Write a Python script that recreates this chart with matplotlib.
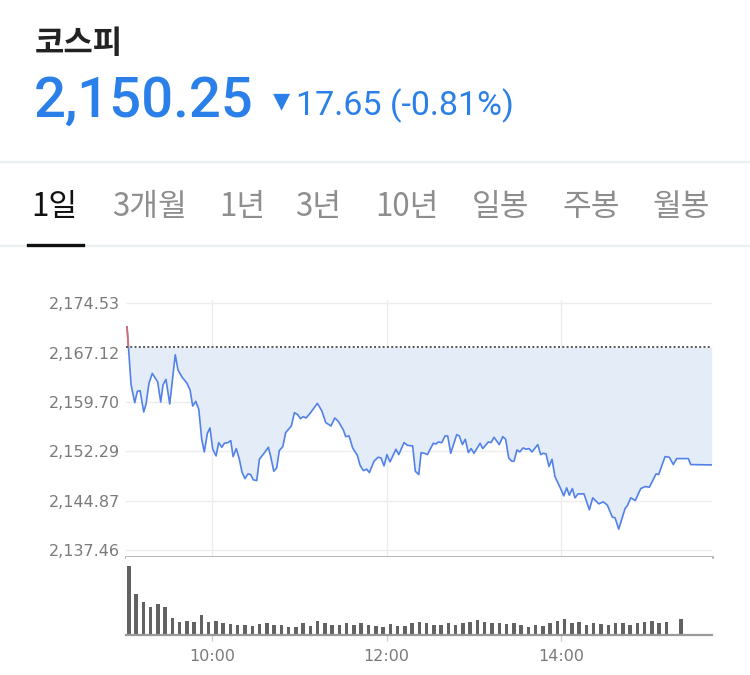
import matplotlib
matplotlib.use("Agg")
import matplotlib.pyplot as plt
from matplotlib.lines import Line2D
from matplotlib.patches import Rectangle

# ---- data (KOSPI intraday) ----
title = "코스피"
last_price = "2,150.25"
change_text = "17.65 (-0.81%)"
prev_close = 2167.90
tabs = ["1일", "3개월", "1년", "3년", "10년", "일봉", "주봉", "월봉"]
tab_centers = [54, 149, 242, 318, 407, 501, 591, 681]   # px

# minutes after 09:00
price_min = [1.3, 4.1, 6.6, 8.4, 10.3, 12.8, 14.4, 16.4, 18.7, 22.4, 24.5, 26.1, 28.1, 30.7,
             34.5, 36.4, 39.0, 42.6, 44.7, 46.5, 48.6, 50.7, 52.7, 54.5, 56.6, 58.4, 60.3,
             62.6, 64.4, 66.5, 68.3, 70.8, 72.7, 74.3, 76.5, 78.6, 80.5, 82.5, 84.6, 86.4,
             88.2, 90.6, 92.4, 96.3, 98.6, 100.2, 102.3, 104.3, 106.1, 108.5, 110.5, 114.4,
             116.5, 118.8, 120.6, 122.6, 124.5, 127.3, 132.3, 135.3, 138.1, 141.7, 144.3,
             146.7, 150.2, 151.8, 154.1, 156.6, 159.8, 161.7, 163.9, 166.3, 168.1, 171.3,
             174.1, 176.1, 178.2, 180.2, 182.3, 186.4, 188.3, 192.0, 194.2, 197.9, 199.7,
             202.1, 203.7, 205.9, 208.0, 212.1, 214.0, 215.6, 217.9, 220.2, 222.0, 224.1,
             228.2, 230.0, 232.1, 234.1, 236.2, 238.1, 240.1, 244.3, 246.1, 250.0, 251.8,
             253.9, 257.5, 259.9, 261.9, 264.0, 266.1, 267.6, 269.7, 271.6, 273.9, 275.9,
             278.0, 280.0, 284.0, 286.0, 287.8, 289.7, 291.7, 293.8, 295.8, 299.3, 301.9,
             303.9, 305.7, 307.8, 309.6, 311.7, 315.8, 319.5, 321.8, 326.0, 329.1, 331.9,
             335.3, 337.2, 339.7, 344.1, 345.6, 348.0, 351.1, 354.9, 358.0, 360.8, 365.4,
             367.2, 371.6, 374.5, 377.3, 379.6, 387.6, 389.3, 403.7]
price_val = [2171.0, 2162.3, 2159.6, 2161.3, 2161.4, 2158.2, 2159.4, 2162.5, 2164.0, 2162.7,
             2159.7, 2162.3, 2163.1, 2159.4, 2166.8, 2164.5, 2163.5, 2162.5, 2161.5, 2159.1,
             2159.8, 2158.6, 2154.1, 2152.2, 2155.0, 2155.8, 2152.6, 2151.6, 2153.6, 2152.9,
             2153.5, 2153.6, 2153.9, 2151.5, 2152.7, 2151.1, 2149.1, 2148.2, 2148.9, 2148.8,
             2148.0, 2147.9, 2151.1, 2152.2, 2152.9, 2151.5, 2149.3, 2149.8, 2152.4, 2153.0,
             2155.1, 2156.1, 2158.1, 2157.8, 2157.2, 2157.5, 2157.3, 2158.0, 2159.5, 2158.4,
             2156.6, 2156.1, 2157.3, 2156.8, 2155.5, 2154.5, 2154.6, 2152.8, 2151.7, 2150.2,
             2149.4, 2149.6, 2149.1, 2150.8, 2151.4, 2151.3, 2150.1, 2151.8, 2150.7, 2152.6,
             2151.8, 2153.6, 2153.2, 2153.1, 2149.3, 2148.8, 2152.1, 2152.0, 2151.8, 2153.5,
             2153.4, 2153.7, 2153.6, 2154.6, 2154.6, 2152.0, 2154.8, 2154.6, 2153.3, 2154.1,
             2152.1, 2152.7, 2152.0, 2153.5, 2152.7, 2153.7, 2153.6, 2154.4, 2153.3, 2154.5,
             2154.1, 2151.3, 2150.8, 2150.8, 2152.5, 2152.2, 2152.8, 2152.6, 2152.7, 2152.2,
             2153.3, 2151.8, 2152.0, 2151.9, 2150.0, 2151.1, 2148.5, 2146.9, 2145.6, 2146.8,
             2145.7, 2146.7, 2145.3, 2145.9, 2145.9, 2143.5, 2145.3, 2144.4, 2144.7, 2144.2,
             2142.4, 2142.3, 2140.6, 2143.7, 2144.1, 2145.3, 2144.9, 2146.7, 2147.0, 2146.9,
             2148.9, 2148.8, 2151.5, 2151.4, 2150.3, 2151.2, 2151.2, 2150.3, 2150.25]

price_ticks = [2137.46, 2144.87, 2152.29, 2159.70, 2167.12, 2174.53]

# 5-minute volume bars (relative height), last one is the closing auction
vol_min = [2.5 + 5 * k for k in range(75)] + [382.5]
vol_val = [69.3, 40.7, 32.7, 28.3, 30.7, 28.3, 17.3, 13.3, 14.0, 13.3, 20.0, 13.3, 14.0,
           11.7, 11.0, 10.0, 10.0, 9.0, 11.3, 12.0, 10.0, 10.0, 8.3, 8.3, 12.0, 9.0, 14.0,
           12.3, 10.0, 10.0, 12.3, 10.0, 11.7, 10.0, 9.3, 8.3, 10.7, 9.0, 9.3, 11.7, 13.3,
           12.3, 10.0, 10.0, 11.7, 10.0, 11.7, 13.3, 15.0, 12.7, 12.3, 12.3, 10.7, 11.7,
           10.0, 8.3, 10.0, 9.0, 12.3, 14.0, 15.7, 11.7, 12.7, 10.0, 12.3, 10.7, 10.0, 11.7,
           12.3, 10.0, 12.3, 13.3, 14.3, 12.3, 13.3, 16.0]
time_ticks = [60, 180, 300]
time_labels = ["10:00", "12:00", "14:00"]

KR = ["Noto Sans CJK KR", "DejaVu Sans"]
BLUE = "#2a80e8"
W, H = 750, 675

fig = plt.figure(figsize=(7.5, 6.75), dpi=100)
fig.patch.set_facecolor("white")

def fx(px):
    return px / W

def fy(py):
    return 1 - py / H

# ---- header ----
fig.text(fx(35), fy(53), title, family=KR, fontsize=23, weight="bold", color="#222222", va="baseline")
fig.text(fx(34), fy(116.5), last_price, family=["Roboto", "DejaVu Sans"], fontsize=40.5,
         weight="medium", color=BLUE, va="baseline")
fig.text(fx(281.5), fy(101.5), "\u25bc", family=["DejaVu Sans"], fontsize=16, color=BLUE,
         ha="center", va="center")
fig.text(fx(296), fy(115), change_text, family=["Roboto", "DejaVu Sans"], fontsize=24.5,
         color=BLUE, va="baseline")

fig.add_artist(Line2D([0, 1], [fy(161.5)] * 2, color="#eceff2", lw=1.6))
for i, (t, cx) in enumerate(zip(tabs, tab_centers)):
    fig.text(fx(cx), fy(216), t, family=KR, fontsize=22.5, ha="center", va="baseline",
             color="#111111" if i == 0 else "#8e8e8e")
fig.add_artist(Line2D([0, 1], [fy(246)] * 2, color="#eceff2", lw=1.6))
fig.add_artist(Line2D([fx(28), fx(83)], [fy(245)] * 2, color="#111111", lw=2.4))

# ---- price panel ----
left, right = 126, 711.7
ax = fig.add_axes([fx(left), fy(557), (right - left) / W, (557 - 300) / H])
ax.set_xlim(0.6, 403.7)
ax.set_ylim(2136.41, 2175.03)

ax.fill_between(price_min, price_val, prev_close, where=[v <= prev_close for v in price_val],
                interpolate=True, color="#e4ecf8", lw=0)
ax.fill_between(price_min, price_val, prev_close, where=[v >= prev_close for v in price_val],
                interpolate=True, color="#fbe6e6", lw=0)
ax.plot(price_min, price_val, color="#5282e8", lw=1.2, zorder=3)
red, = ax.plot(price_min, price_val, color="#e06a6a", lw=1.2, zorder=4)
clip = Rectangle((0, prev_close), 500, 100, transform=ax.transData)
red.set_clip_path(clip)
ax.axhline(prev_close, color="#555555", lw=1.4, ls=(0, (1, 1.2)), zorder=5)

ax.set_yticks(price_ticks)
ax.set_yticklabels([f"{v:,.2f}" for v in price_ticks])
ax.set_xticks(time_ticks)
ax.tick_params(axis="y", length=0, pad=4.5, labelsize=11.5, labelcolor="#7a7a7a")
ax.tick_params(axis="x", length=0, labelbottom=False)
ax.grid(True, color="#ececec", lw=1)
ax.set_axisbelow(True)
for s in ["top", "left", "right"]:
    ax.spines[s].set_visible(False)
ax.spines["bottom"].set_color("#b3b3b3")
ax.spines["bottom"].set_linewidth(2)

# ---- volume panel ----
vx = fig.add_axes([fx(left), fy(635), (right - left) / W, 78 / H])
vx.set_xlim(0.6, 403.7)
vx.set_ylim(0, 78)
vx.bar(vol_min, vol_val, width=2.4, color="#626262")
vx.set_yticks([])
vx.set_xticks(time_ticks)
vx.set_xticklabels(time_labels)
vx.tick_params(axis="x", length=4, width=1, color="#cccccc", pad=6, labelsize=11.5,
               labelcolor="#7a7a7a")
for s in ["top", "left", "right"]:
    vx.spines[s].set_visible(False)
vx.spines["bottom"].set_color("#9a9a9a")
vx.spines["bottom"].set_linewidth(1.6)

fig.savefig("out.png", dpi=100, facecolor="white")
